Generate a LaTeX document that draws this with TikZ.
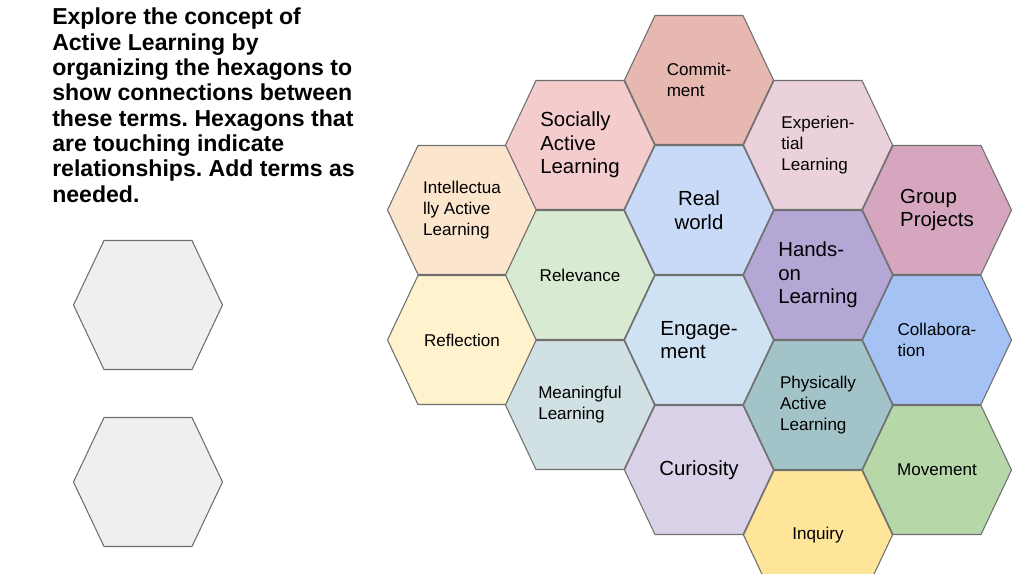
\documentclass[tikz,border=0pt]{standalone}
\usepackage{fontspec}
\setmainfont{Liberation Sans}
\usetikzlibrary{positioning}
\frenchspacing

\definecolor{cCommit}{HTML}{E6B8AF}
\definecolor{cSocial}{HTML}{F4CCCC}
\definecolor{cExper}{HTML}{EAD1DC}
\definecolor{cIntel}{HTML}{FCE5CD}
\definecolor{cReal}{HTML}{C9DAF8}
\definecolor{cGroup}{HTML}{D5A6BD}
\definecolor{cRelev}{HTML}{D9EAD3}
\definecolor{cHands}{HTML}{B4A7D6}
\definecolor{cReflect}{HTML}{FFF2CC}
\definecolor{cEngage}{HTML}{CFE2F3}
\definecolor{cCollab}{HTML}{A4C2F4}
\definecolor{cMeaning}{HTML}{D0E0E3}
\definecolor{cPhys}{HTML}{A2C4C9}
\definecolor{cCurio}{HTML}{D9D2E9}
\definecolor{cMove}{HTML}{B6D7A8}
\definecolor{cInq}{HTML}{FFE599}
\definecolor{cBlank}{HTML}{EFEFEF}
\definecolor{cEdge}{HTML}{707070}

\tikzset{
  hexline/.style={draw=cEdge, line width=0.8pt},
  bigtxt/.style={align=left, font=\fontsize{15.3}{17.6}\selectfont},
  smalltxt/.style={align=left, font=\fontsize{12.8}{15.8}\selectfont},
}

% hexagon cell: name, x, y, colour, style, text
\newcommand{\hexcell}[6]{%
  \draw[hexline, fill=#4] (#2-74.5,#3) -- (#2-44,#3-64.5) -- (#2+44,#3-64.5)
    -- (#2+74.5,#3) -- (#2+44,#3+64.5) -- (#2-44,#3+64.5) -- cycle;
  \node[#5] (#1) at (#2,#3) {#6};}

\begin{document}
\begin{tikzpicture}[x=0.75pt, y=-0.75pt]
  \useasboundingbox[fill=white] (0,0) rectangle (1024,574);

  \node[anchor=north west, align=left, inner sep=0pt, font=\bfseries\fontsize{17.3}{19}\selectfont]
    (intro) at (52,8) {Explore the concept of\\Active Learning by\\organizing the hexagons to\\show connections between\\these terms. Hexagons that\\are touching indicate\\relationships. Add terms as\\needed.};

  % blank cells
  \hexcell{blankA}{148}{305}{cBlank}{smalltxt}{}
  \hexcell{blankB}{148}{482}{cBlank}{smalltxt}{}

  % column 1
  \hexcell{intel}{462}{210}{cIntel}{smalltxt}{Intellectua\\lly Active\\Learning}
  \hexcell{reflect}{462}{340}{cReflect}{smalltxt}{Reflection}
  % column 2
  \hexcell{social}{580}{145}{cSocial}{bigtxt}{Socially\\Active\\Learning}
  \hexcell{relev}{580}{275}{cRelev}{smalltxt}{Relevance}
  \hexcell{meaning}{580}{405}{cMeaning}{smalltxt}{Meaningful\\Learning}
  % column 3
  \hexcell{commit}{699}{80}{cCommit}{smalltxt}{Commit-\\ment}
  \hexcell{real}{699}{210}{cReal}{bigtxt, align=center}{Real\\world}
  \hexcell{engage}{699}{340}{cEngage}{bigtxt}{Engage-\\ment}
  \hexcell{curio}{699}{470}{cCurio}{bigtxt}{Curiosity}
  % column 4
  \hexcell{exper}{818}{145}{cExper}{smalltxt}{Experien-\\tial\\Learning}
  \hexcell{hands}{818}{275}{cHands}{bigtxt}{Hands-\\on\\Learning}
  \hexcell{phys}{818}{405}{cPhys}{smalltxt}{Physically\\Active\\Learning}
  \hexcell{inq}{818}{535}{cInq}{smalltxt}{Inquiry}
  % column 5
  \hexcell{group}{937}{210}{cGroup}{bigtxt}{Group\\Projects}
  \hexcell{collab}{937}{340}{cCollab}{smalltxt}{Collabora-\\tion}
  \hexcell{move}{937}{470}{cMove}{smalltxt}{Movement}
\end{tikzpicture}
\end{document}
